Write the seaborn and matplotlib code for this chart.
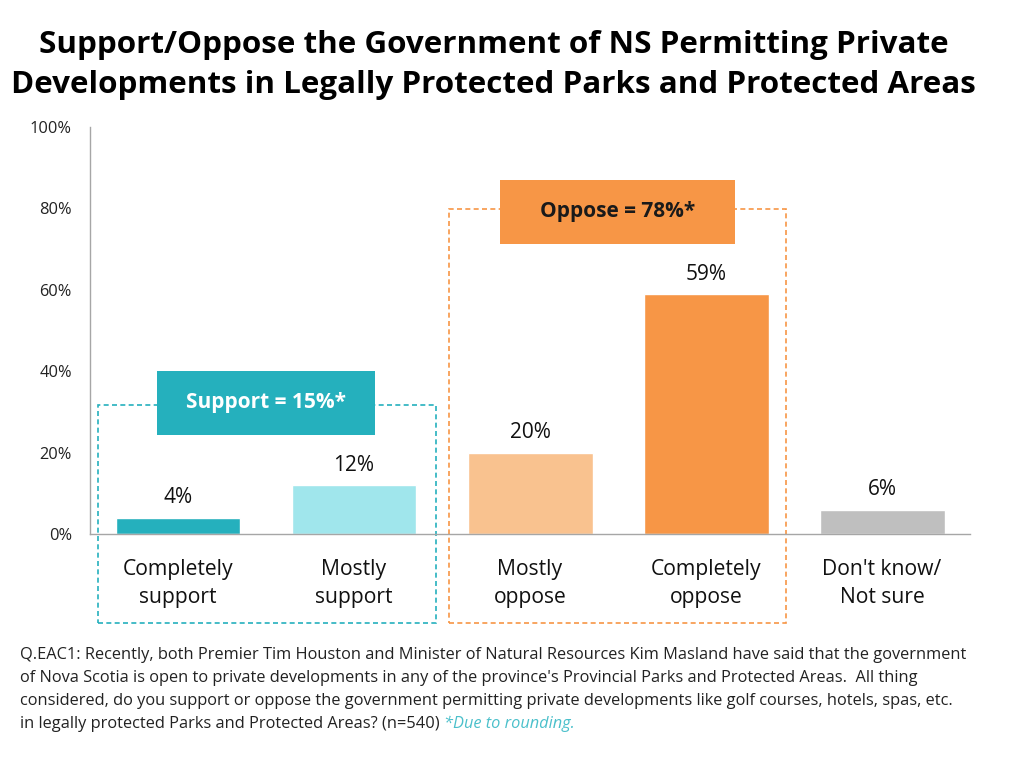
import matplotlib
matplotlib.use("Agg")
import matplotlib.pyplot as plt
from matplotlib.patches import Rectangle
import seaborn as sns
import pandas as pd
import numpy as np

# --- data ---
categories = ["Completely\nsupport", "Mostly\nsupport", "Mostly\noppose",
              "Completely\noppose", "Don't know/\nNot sure"]
values = [4, 12, 20, 59, 6]
bar_colors = ["#25B0BD", "#A0E6EC", "#F9C28F", "#F79646", "#BFBFBF"]
y_ticks = [0, 20, 40, 60, 80, 100]

title_lines = ["Support/Oppose the Government of NS Permitting Private",
               "Developments in Legally Protected Parks and Protected Areas"]
note_lines = [
    "Q.EAC1: Recently, both Premier Tim Houston and Minister of Natural Resources Kim Masland have said that the government",
    "of Nova Scotia is open to private developments in any of the province's Provincial Parks and Protected Areas.  All thing",
    "considered, do you support or oppose the government permitting private developments like golf courses, hotels, spas, etc.",
    "in legally protected Parks and Protected Areas? (n=540) ",
]
note_star = "*Due to rounding."

df = pd.DataFrame({"category": categories, "value": values})

sns.set_theme(style="white")
plt.rcParams["font.family"] = ["Open Sans", "DejaVu Sans"]

fig = plt.figure(figsize=(10.24, 7.59), dpi=100)
ax = fig.add_axes([0.0879, 0.2964, 0.8594, 0.5363])

sns.barplot(data=df, x="category", y="value", hue="category",
            palette=bar_colors, width=0.71, legend=False, ax=ax, saturation=1)

ax.set_xlim(-0.5, 4.5)
ax.set_ylim(0, 100)
ax.set_yticks(y_ticks)
ax.set_yticklabels([f"{t}%" for t in y_ticks], fontsize=11.8, color="#222222")
ax.set_xticks(range(len(categories)))
ax.set_xticklabels(categories, fontsize=15.2, color="#111111", linespacing=1.45)
ax.tick_params(axis="x", length=0, pad=18)
ax.set_xticks(np.arange(-0.5, 5, 1), minor=True)
ax.tick_params(axis="x", which="minor", length=5, color="#A6A6A6", width=1, direction="out")
ax.tick_params(axis="y", length=5, color="#A6A6A6", width=1, direction="out", pad=8)
ax.set_xlabel("")
ax.set_ylabel("")
sns.despine(ax=ax, top=True, right=True)
for s in ["left", "bottom"]:
    ax.spines[s].set_color("#A6A6A6")
    ax.spines[s].set_linewidth(1)

for i, v in enumerate(values):
    ax.text(i, v + 2.3, f"{v}%", ha="center", va="bottom", fontsize=15, color="#111111")

# group boxes
ax.add_patch(Rectangle((-0.455, -21.9), 1.921, 53.6, fill=False, ls=(0, (3, 2)),
                       lw=1.2, ec="#25B0BD", clip_on=False, zorder=1))
ax.add_patch(Rectangle((1.54, -21.9), 1.915, 101.8, fill=False, ls=(0, (3, 2)),
                       lw=1.2, ec="#F79646", clip_on=False, zorder=1))
ax.add_patch(Rectangle((-0.119, 24.3), 1.238, 15.7, fc="#25B0BD", ec="none",
                       clip_on=False, zorder=3))
ax.add_patch(Rectangle((1.83, 71.3), 1.335, 15.7, fc="#F79646", ec="none",
                       clip_on=False, zorder=3))
ax.text(0.5, 32.2, "Support = 15%*", ha="center", va="center", fontsize=15,
        fontweight="bold", color="white", zorder=4)
ax.text(2.4975, 79.2, "Oppose = 78%*", ha="center", va="center", fontsize=15,
        fontweight="bold", color="#1a1a1a", zorder=4)

# title, one line at a time
for k, line in enumerate(title_lines):
    fig.text(0.482, 0.941 - k * 0.053, line, ha="center", va="center",
             fontsize=22.6, fontweight="bold", color="#000000")

# footnote, line by line so the italic note follows the last line
line_h = 0.0305
y0 = 0.148
for k, line in enumerate(note_lines):
    t = fig.text(0.02, y0 - k * line_h, line, ha="left", va="top",
                 fontsize=11.8, color="#222222")
fig.canvas.draw()
bb = t.get_window_extent(renderer=fig.canvas.get_renderer())
fig.text(bb.x1 / fig.bbox.width, y0 - 3 * line_h, note_star, ha="left", va="top",
         fontsize=11.8, style="italic", color="#4BC0CB")

fig.savefig("out.png", dpi=100, facecolor="white")
